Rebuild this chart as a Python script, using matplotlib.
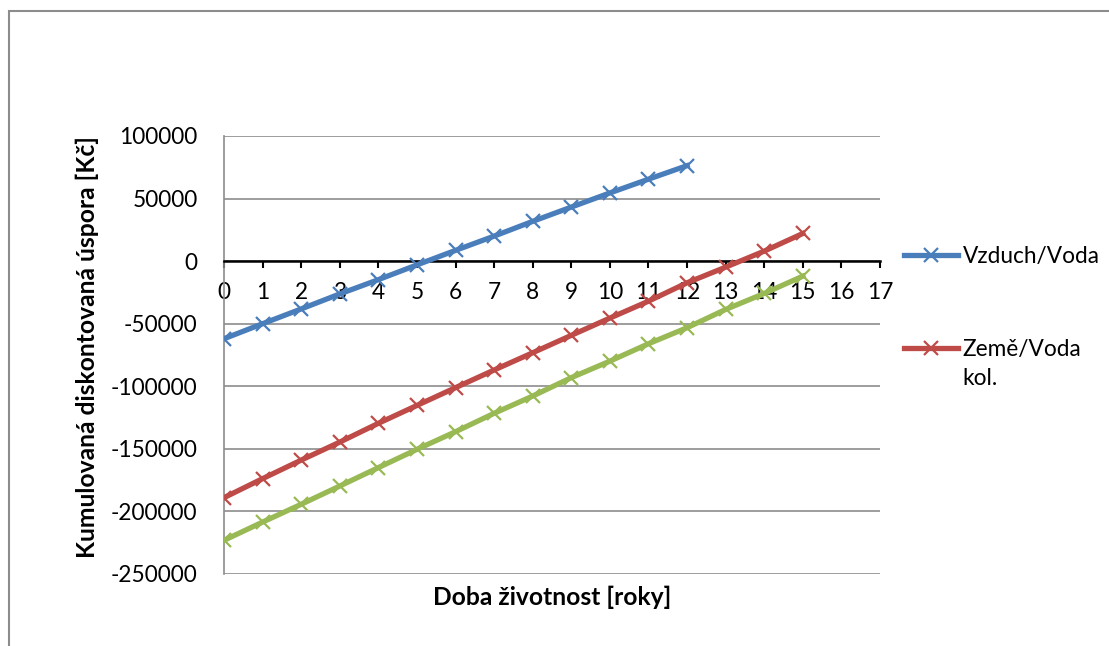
import matplotlib.pyplot as plt
from matplotlib.patches import Rectangle

# roky (years)
years_vzduch = list(range(0, 13))
years_zeme = list(range(0, 16))

# cumulative discounted savings [Kc]
vzduch_voda = [-62000, -50000, -38200, -26200, -14800, -3000, 8600,
               20000, 31800, 43200, 54500, 65500, 76300]
zeme_voda_kol = [-189000, -173800, -159000, -144600, -129600, -115300, -101100,
                 -87000, -73200, -59300, -45500, -32000, -17300, -4800, 8000, 22100]
zeme_voda_vrt = [-223100, -208500, -194300, -179700, -165000, -150400, -136300,
                 -121600, -107800, -93100, -79900, -66000, -53200, -38600, -25800, -12000]

series_labels = ['Vzduch/Voda', 'Země/Voda', 'kol.']
y_ticks = [-250000, -200000, -150000, -100000, -50000, 0, 50000, 100000]
x_ticks = list(range(0, 18))

plt.rcParams['font.family'] = ['Lato', 'DejaVu Sans']

W, H = 1109, 646
fig = plt.figure(figsize=(W / 100, H / 100), dpi=100)
ax = fig.add_axes([224 / W, 1 - 574 / H, 656 / W, 438 / H])

# outer chart border (cropped on right/bottom)
fig.patches.append(Rectangle((9 / W, -0.1), 1.2, 1 - 11 / H + 0.1,
                             transform=fig.transFigure, fill=False,
                             edgecolor='#8c8c8c', linewidth=1.5))

style = dict(linewidth=3.8, marker='x', markersize=10, markeredgewidth=1.6)
l1, = ax.plot(years_vzduch, vzduch_voda, color='#4a7ebb', **style, zorder=5)
l2, = ax.plot(years_zeme, zeme_voda_kol, color='#be4b48', **style, zorder=4)
l3, = ax.plot(years_zeme, zeme_voda_vrt, color='#98b954', **style, zorder=3)

ax.set_xlim(0, 17)
ax.set_ylim(-250000, 100000)
ax.set_yticks(y_ticks)
ax.set_yticklabels([str(v) for v in y_ticks])
ax.set_xticks(x_ticks)
ax.grid(axis='y', color='#8c8c8c', linewidth=1.2)
ax.set_axisbelow(True)

for s in ['top', 'right']:
    ax.spines[s].set_visible(False)
ax.spines['left'].set_color('#8c8c8c')
ax.spines['left'].set_linewidth(1.2)
ax.spines['bottom'].set_position(('data', 0))
ax.spines['bottom'].set_color('black')
ax.spines['bottom'].set_linewidth(1.8)
ax.spines['bottom'].set_zorder(2.5)

ax.tick_params(axis='y', length=0, pad=19, labelsize=16.3)
ax.tick_params(axis='x', direction='out', length=5, width=1.5, pad=10,
               labelsize=16.3, color='black')

ax.set_xlabel('Doba životnost [roky]', fontsize=17.7, fontweight='bold')
ax.xaxis.set_label_coords(0.5, -0.053)
ax.xaxis.label.set_va('center')
ax.set_ylabel('Kumulovaná diskontovaná úspora [Kč]', fontsize=17.7, fontweight='bold')
ax.yaxis.set_label_coords((87 - 224) / 656, 0.518)
ax.yaxis.label.set_va('center')

leg = ax.legend([l1, l2], series_labels[:2], loc='center left',
                bbox_to_anchor=(904 / W, 1 - 303 / H), bbox_transform=fig.transFigure,
                frameon=False, fontsize=16.3, handlelength=2.4, handletextpad=0.2,
                labelspacing=3.2, borderpad=0, borderaxespad=0)

fig.canvas.draw()
bb = leg.get_texts()[1].get_window_extent()
fig.text(bb.x0 / W, bb.y0 / H - 0.012, series_labels[2], fontsize=16.3, va='top', ha='left')

fig.savefig('out.png', dpi=100)
